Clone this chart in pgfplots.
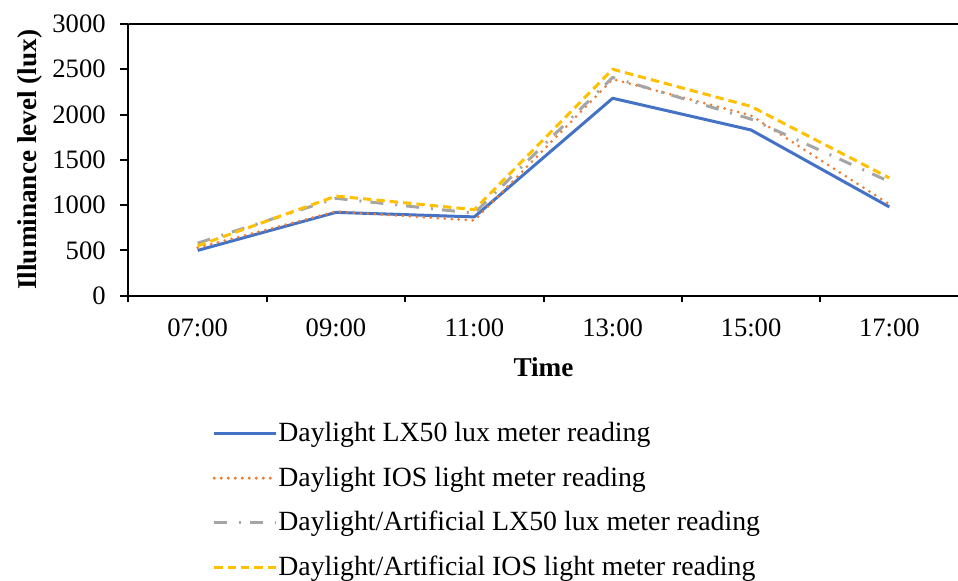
\documentclass[border=0pt]{standalone}
\usepackage{pgfplots}
\pgfplotsset{compat=1.18}
\usepackage{fontspec}
\setmainfont{Liberation Serif}
\definecolor{cblue}{HTML}{4472C4}
\definecolor{corange}{HTML}{ED7D31}
\definecolor{cgray}{HTML}{A5A5A5}
\definecolor{cyellow}{HTML}{FFC000}
\begin{document}
\begin{tikzpicture}
\begin{axis}[
  at={(0,0)}, anchor=south west,
  width=415pt, height=135.85pt, scale only axis,
  xmin=-0.5, xmax=5.5, ymin=0, ymax=3000,
  axis lines=left, axis line style={-, line width=1pt, black},
  xtick={0,...,5}, xticklabels={07:00,09:00,11:00,13:00,15:00,17:00},
  minor xtick={-0.5,0.5,...,5.5},
  ytick={0,500,...,3000},
  tick align=outside, major tick length=4pt, minor tick length=3pt,
  tick style={line width=1pt, black},
  major x tick style={draw=none},
  /pgf/number format/assume math mode=true,
  /pgf/number format/set thousands separator={},
  ticklabel style={font=\fontsize{13.3}{16}\selectfont},
  yticklabel style={xshift=-3.9pt},
  xticklabel style={anchor=base, yshift=-16.65pt},
  xlabel={\textbf{Time}},
  xlabel style={at={(axis description cs:0.5,-0.2624)}, anchor=center, font=\fontsize{13.6}{16}\selectfont},
  ylabel={\textbf{Illuminance level (lux)}},
  ylabel style={at={(axis description cs:-0.1187,0.5)}, anchor=center, font=\fontsize{13.6}{16}\selectfont},
  legend style={at={(axis description cs:0.0938,-0.4354)}, anchor=north west, draw=none, fill=none,
    font=\fontsize{13.9}{16}\selectfont, row sep=7.1pt},
  legend cell align=left,
  legend image code/.code={\draw[#1, overlay] (0pt,0pt) -- (30.8pt,0pt); \path (0pt,0pt) -- (29.3pt,0pt);},
  every axis plot/.append style={line width=1.5pt, line join=round},
]
\addplot[cblue, solid] coordinates {(0,500) (1,920) (2,870) (3,2180) (4,1830) (5,980)};
\addlegendentry{Daylight LX50 lux meter reading}
\addplot[corange, line cap=round, dash pattern=on 0pt off 3.5pt] coordinates {(0,530) (1,930) (2,830) (3,2390) (4,1990) (5,1010)};
\addlegendentry{Daylight IOS light meter reading}
\addplot[cgray, dash pattern=on 6.5pt off 6pt on 1pt off 4.5pt] coordinates {(0,580) (1,1075) (2,910) (3,2410) (4,1950) (5,1260)};
\addlegendentry{Daylight/Artificial LX50 lux meter reading}
\addplot[cyellow, dash pattern=on 4.2pt off 2.5pt] coordinates {(0,550) (1,1100) (2,950) (3,2500) (4,2090) (5,1300)};
\addlegendentry{Daylight/Artificial IOS light meter reading}
\draw[line width=1pt, black] (rel axis cs:0,1) -- (rel axis cs:1,1);
\end{axis}
\pgfresetboundingbox
\path[use as bounding box] (-64.25pt,-142.65pt) rectangle (414.75pt,147.85pt);
\end{tikzpicture}
\end{document}
